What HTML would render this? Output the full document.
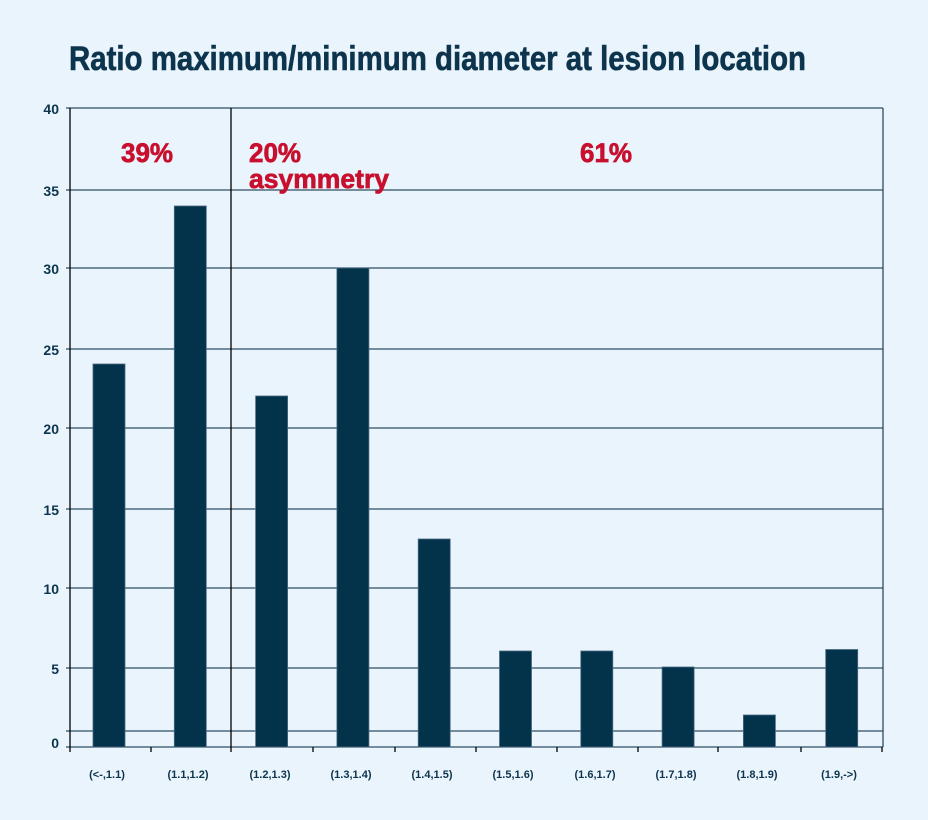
<!DOCTYPE html>
<html><head><meta charset="utf-8"><style>
html,body{margin:0;padding:0;background:#eaf4fd;}
svg{display:block;font-family:"Liberation Sans",sans-serif;}
</style></head><body>
<svg width="928" height="820" viewBox="0 0 928 820" xmlns="http://www.w3.org/2000/svg">
<rect x="0" y="0" width="928" height="820" fill="#eaf4fd"/>
<text x="69" y="70" font-size="34" font-weight="bold" fill="#0c344c" stroke="#0c344c" stroke-width="0.6" textLength="737" lengthAdjust="spacingAndGlyphs">Ratio maximum/minimum diameter at lesion location</text>
<g stroke="#2d4e63" stroke-width="1.3">
<line x1="66" y1="108" x2="883" y2="108"/>
<line x1="66" y1="190" x2="883" y2="190"/>
<line x1="66" y1="268" x2="883" y2="268"/>
<line x1="66" y1="349" x2="883" y2="349"/>
<line x1="66" y1="428" x2="883" y2="428"/>
<line x1="66" y1="509" x2="883" y2="509"/>
<line x1="66" y1="588" x2="883" y2="588"/>
<line x1="66" y1="668" x2="883" y2="668"/>
<line x1="66" y1="731" x2="883" y2="731"/>
<line x1="66" y1="747" x2="883" y2="747"/>
<line x1="883" y1="108" x2="883" y2="747"/>
</g>
<g fill="#03324b" stroke="#4a6a80" stroke-width="0.8">
<rect x="93" y="364" width="32" height="383"/>
<rect x="174.3" y="206" width="32" height="541"/>
<rect x="255.6" y="396" width="32" height="351"/>
<rect x="336.9" y="268" width="32" height="479"/>
<rect x="418.2" y="539" width="32" height="208"/>
<rect x="499.5" y="651" width="32" height="96"/>
<rect x="580.8" y="651" width="32" height="96"/>
<rect x="662.1" y="667" width="32" height="80"/>
<rect x="743.4" y="715" width="32" height="32"/>
<rect x="825.7" y="649.5" width="32" height="97.5"/>
</g>
<g stroke="#000" stroke-width="1.3">
<line x1="70" y1="108" x2="70" y2="752"/>
<line x1="231" y1="108" x2="231" y2="752"/>
<line x1="151" y1="747" x2="151" y2="752"/>
<line x1="313" y1="747" x2="313" y2="752"/>
<line x1="395" y1="747" x2="395" y2="752"/>
<line x1="476" y1="747" x2="476" y2="752"/>
<line x1="557" y1="747" x2="557" y2="752"/>
<line x1="638" y1="747" x2="638" y2="752"/>
<line x1="718" y1="747" x2="718" y2="752"/>
<line x1="801" y1="747" x2="801" y2="752"/>
<line x1="882" y1="747" x2="882" y2="752"/>
</g>
<g font-size="14" font-weight="bold" fill="#0c344c" text-anchor="end">
<text x="59" y="114">40</text>
<text x="59" y="196">35</text>
<text x="59" y="274">30</text>
<text x="59" y="355">25</text>
<text x="59" y="434">20</text>
<text x="59" y="515">15</text>
<text x="59" y="594">10</text>
<text x="59" y="674">5</text>
<text x="59" y="748">0</text>
</g>
<g font-size="11" font-weight="bold" fill="#0c344c" text-anchor="middle">
<text x="107" y="778">(&lt;-,1.1)</text>
<text x="188" y="778">(1.1,1.2)</text>
<text x="270" y="778">(1.2,1.3)</text>
<text x="351" y="778">(1.3,1.4)</text>
<text x="432" y="778">(1.4,1.5)</text>
<text x="513" y="778">(1.5,1.6)</text>
<text x="595" y="778">(1.6,1.7)</text>
<text x="676" y="778">(1.7,1.8)</text>
<text x="757" y="778">(1.8,1.9)</text>
<text x="839" y="778">(1.9,-&gt;)</text>
</g>
<g font-size="27" font-weight="bold" fill="#c8102e" stroke="#c8102e" stroke-width="0.7">
<text x="121" y="162" textLength="52" lengthAdjust="spacingAndGlyphs">39%</text>
<text x="249" y="162" textLength="52" lengthAdjust="spacingAndGlyphs">20%</text>
<text x="249" y="188" textLength="140" lengthAdjust="spacingAndGlyphs">asymmetry</text>
<text x="580" y="162" textLength="52" lengthAdjust="spacingAndGlyphs">61%</text>
</g>
</svg>
</body></html>
